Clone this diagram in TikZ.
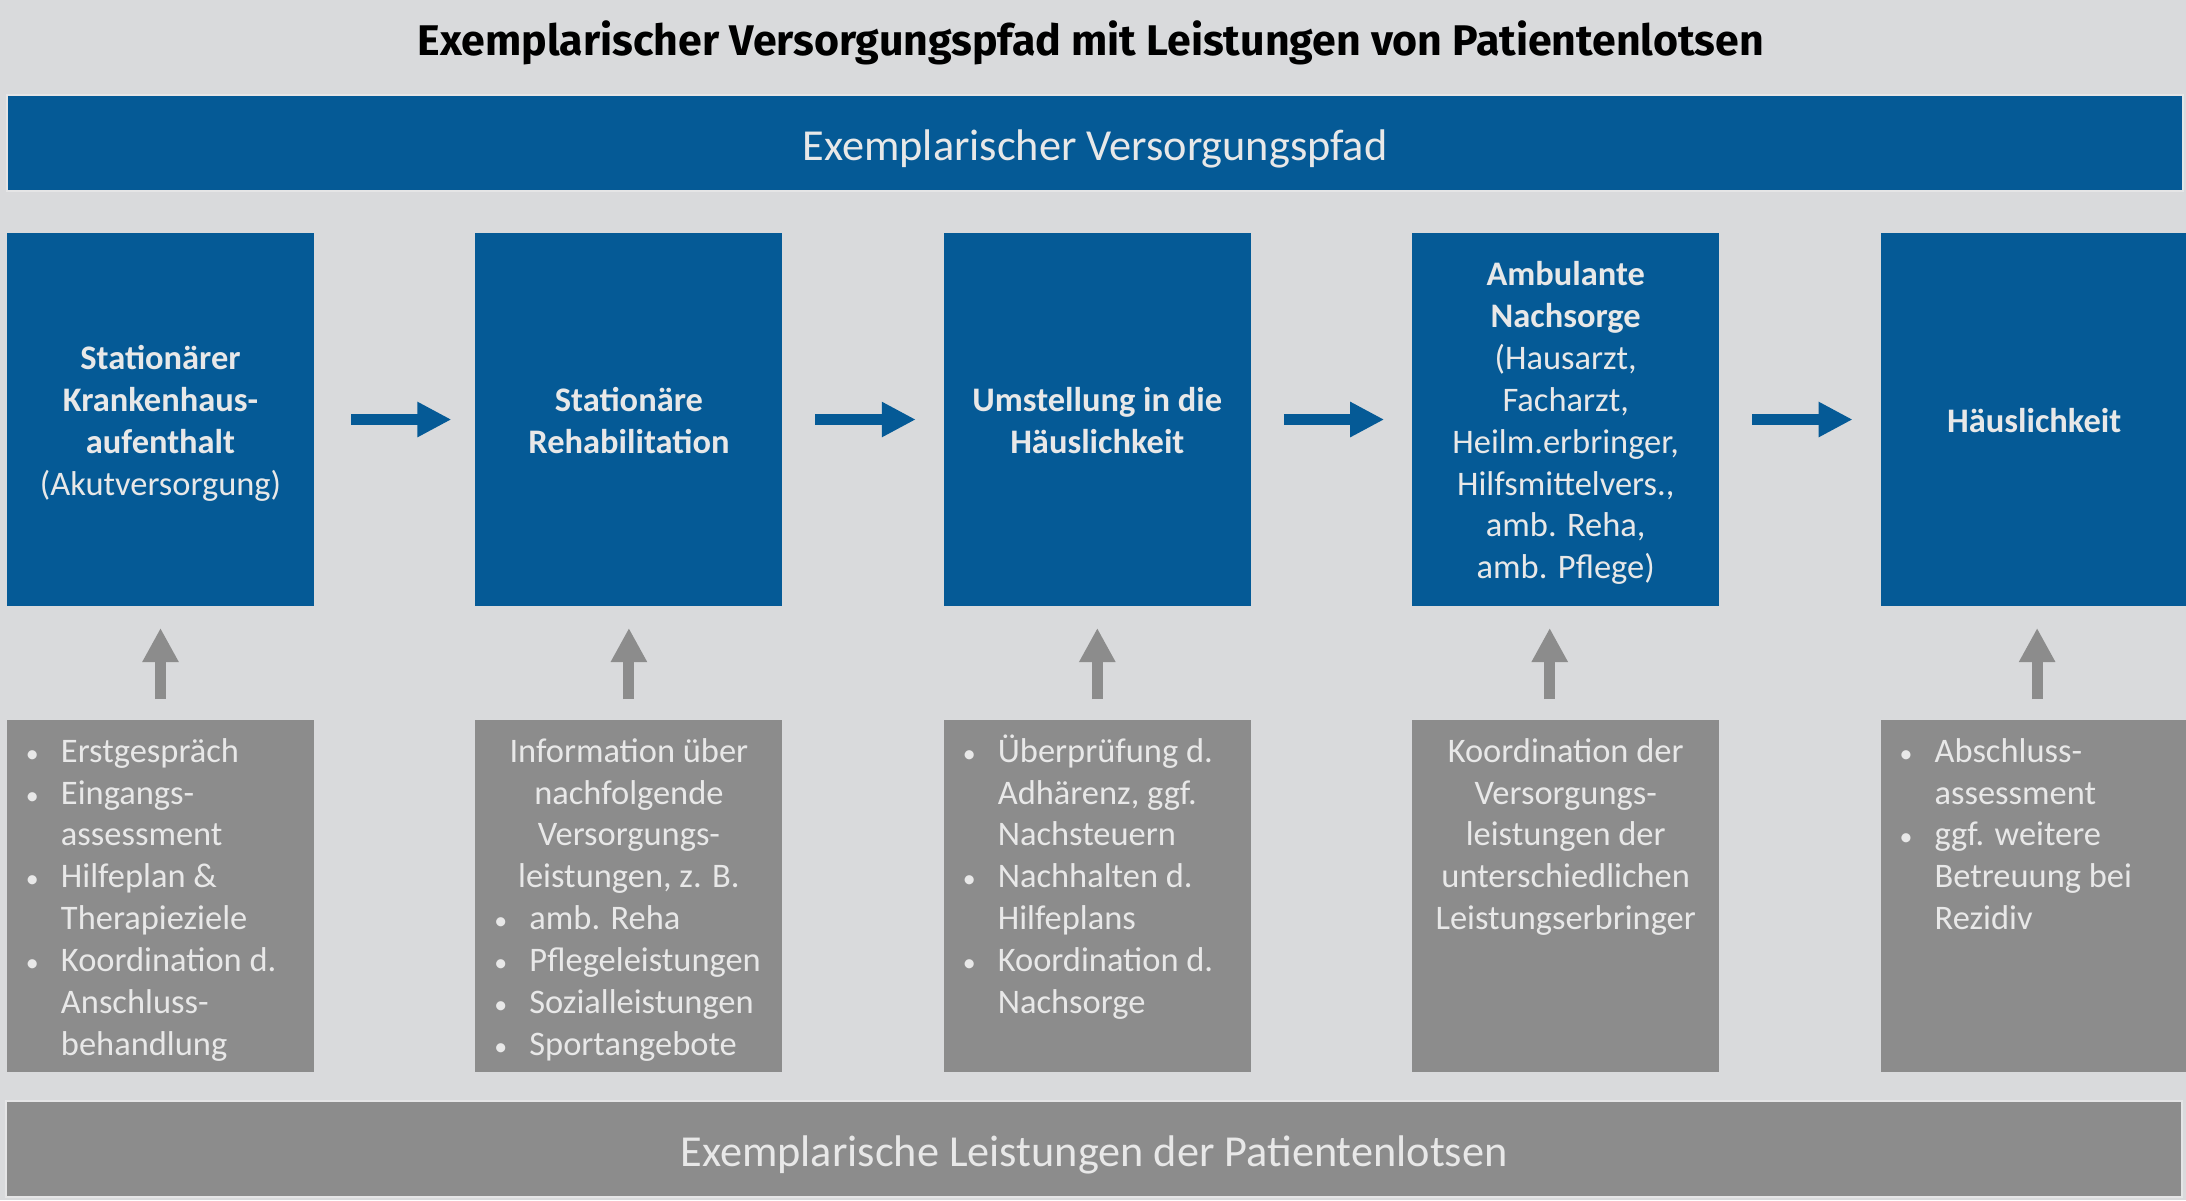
\documentclass[tikz,border=0pt]{standalone}
\usepackage{fontspec}
\setmainfont{Carlito}
\newfontfamily\titelfont{Fira Sans}
\usetikzlibrary{positioning,arrows.meta}

\definecolor{pfadblau}{RGB}{5,90,150}
\definecolor{lotsgrau}{RGB}{140,140,140}
\definecolor{hintergrund}{RGB}{217,218,220}
\definecolor{schrift}{RGB}{232,232,232}

\newcommand{\pfadinhalt}[1]{\parbox{3.07cm}{\centering\vspace*{2.3pt}#1\rule[-1.9pt]{0pt}{1.9pt}}}
\newcommand{\lotspunkt}[1]{\par\noindent\hangindent=0.54cm\hangafter=1%
    \let\\\newline\makebox[0.54cm][l]{\hspace{0.19cm}\scalebox{0.75}{\textbullet}}\strut#1\par}
\newcommand{\lotsinhalt}[1]{\parbox[t][3.52cm][t]{3.07cm}{%
    \raggedright\vspace*{0.13cm}#1}}

\tikzset{
    pfadbox/.style={fill=pfadblau, text=schrift, minimum width=3.07cm,
        minimum height=3.73cm, inner sep=0pt, outer sep=0pt,
        font=\fontsize{9.8pt}{11.9pt}\selectfont\bfseries},
    lotsbox/.style={fill=lotsgrau, text=schrift, minimum width=3.07cm,
        minimum height=3.52cm, inner sep=0pt, outer sep=0pt,
        font=\fontsize{9.8pt}{11.9pt}\selectfont},
    band/.style={text=schrift, minimum width=21.76cm, minimum height=0.96cm,
        inner sep=0pt, text height=10.2pt, text depth=0pt,
        draw=schrift!80!hintergrund, line width=0.02cm,
        font=\fontsize{12.6pt}{14pt}\selectfont},
    weiter/.style={-{Triangle[length=0.34cm,width=0.33cm]}, line width=0.11cm,
        draw=pfadblau, shorten <=0.33cm, shorten >=0.28cm},
    hoch/.style={-{Triangle[length=0.34cm,width=0.34cm]}, line width=0.11cm,
        draw=lotsgrau, shorten <=0.21cm, shorten >=0.22cm}
}

\begin{document}
\begin{tikzpicture}[x=1cm,y=-1cm]
    % Background
    \fill[hintergrund] (0,0) rectangle (21.86,12);
    \useasboundingbox (0,0) rectangle (21.86,12);
    % Title
    \node[anchor=base, inner sep=0pt, font=\titelfont\fontsize{12.2pt}{13pt}\selectfont\bfseries]
        (titel) at (10.91,0.55)
        {Exemplarischer Versorgungspfad mit Leistungen von Patientenlotsen};
    % Bands
    \node[band, fill=pfadblau] (pfad) at (10.95,1.43) {Exemplarischer Versorgungspfad};
    \node[band, fill=lotsgrau] (leistungen) at (10.94,11.49)
        {Exemplarische Leistungen der Patientenlotsen};
    % Versorgungspfad
    \node[pfadbox] (p1) at (1.605,4.195) {\pfadinhalt{%
        Stationärer\\Krankenhaus-\\aufenthalt\\\mdseries(Akutversorgung)}};
    \node[pfadbox, right=1.614cm of p1] (p2) {\pfadinhalt{Stationäre\\Rehabilitation}};
    \node[pfadbox, right=1.614cm of p2] (p3) {\pfadinhalt{Umstellung in die\\Häuslichkeit}};
    \node[pfadbox, right=1.614cm of p3] (p4) {\pfadinhalt{%
        Ambulante\\Nachsorge\\\mdseries(Hausarzt,\\Facharzt,\\Heilm.erbringer,\\
        Hilfsmittelvers.,\\amb. Reha,\\amb. Pflege)}};
    \node[pfadbox, right=1.614cm of p4] (p5) {\pfadinhalt{Häuslichkeit}};
    % Leistungen
    \node[lotsbox, below=1.14cm of p1] (l1) {\lotsinhalt{%
        \lotspunkt{Erstgespräch}
        \lotspunkt{Eingangs-\\assessment}
        \lotspunkt{Hilfeplan \&\\Therapieziele}
        \lotspunkt{Koordination d.\\Anschluss-\\behandlung}}};
    \node[lotsbox, below=1.14cm of p2] (l2) {\lotsinhalt{%
        {\centering\strut Information über\\nachfolgende\\Versorgungs-\\leistungen, z. B.\par}
        \lotspunkt{amb. Reha}
        \lotspunkt{Pflegeleistungen}
        \lotspunkt{Sozialleistungen}
        \lotspunkt{Sportangebote}}};
    \node[lotsbox, below=1.14cm of p3] (l3) {\lotsinhalt{%
        \lotspunkt{Überprüfung d.\\Adhärenz, ggf.\\Nachsteuern}
        \lotspunkt{Nachhalten d.\\Hilfeplans}
        \lotspunkt{Koordination d.\\Nachsorge}}};
    \node[lotsbox, below=1.14cm of p4] (l4) {\lotsinhalt{%
        {\centering\strut Koordination der\\Versorgungs-\\leistungen der\\
         unterschiedlichen\\Leistungserbringer\par}}};
    \node[lotsbox, below=1.14cm of p5] (l5) {\lotsinhalt{%
        \lotspunkt{Abschluss-\\assessment}
        \lotspunkt{ggf. weitere\\Betreuung bei\\Rezidiv}}};
    % Arrows
    \draw[weiter, shorten <=0.37cm, shorten >=0.24cm] (p1) -- (p2);
    \draw[weiter] (p2) -- (p3);
    \draw[weiter] (p3) -- (p4);
    \draw[weiter] (p4) -- (p5);
    \draw[hoch] (l1) -- (p1);
    \draw[hoch] (l2) -- (p2);
    \draw[hoch] (l3) -- (p3);
    \draw[hoch] ([xshift=-0.16cm]l4.north) -- ([xshift=-0.16cm]p4.south);
    \draw[hoch] ([xshift=0.03cm]l5.north) -- ([xshift=0.03cm]p5.south);
\end{tikzpicture}
\end{document}
